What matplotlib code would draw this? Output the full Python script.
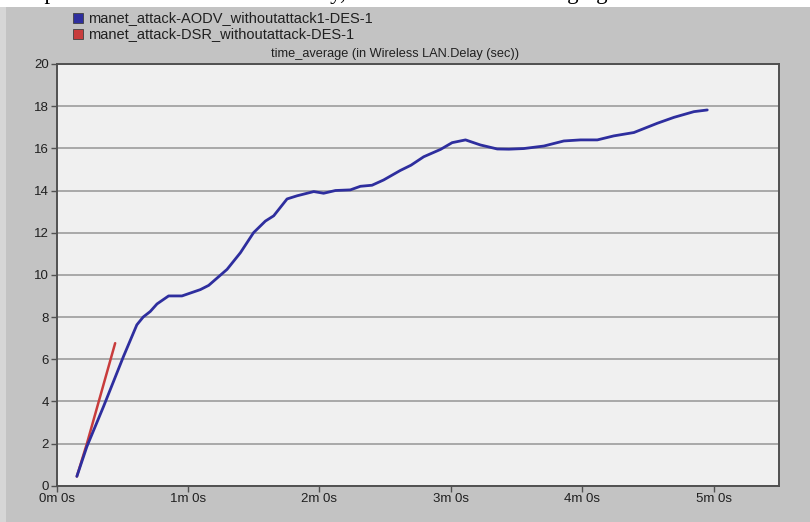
import matplotlib.pyplot as plt
from matplotlib.patches import Rectangle

# time in seconds, delay in seconds
aodv_t = [9.2, 13.8, 21.4, 30.5, 36.6, 39.5, 42.7, 45.8, 51.1, 57.2, 65.6, 69.4,
          77.8, 83.9, 89.9, 95.3, 99.1, 105.2, 109.8, 117.4, 121.9, 127.3, 134.1,
          138.7, 144.0, 149.3, 156.9, 161.8, 167.6, 175.3, 180.6, 186.7, 193.5,
          201.2, 206.5, 213.3, 222.5, 231.6, 239.2, 246.9, 254.4, 263.6, 274.3,
          281.9, 291.0, 297.1]
aodv_v = [0.44, 1.86, 3.76, 6.13, 7.63, 8.0, 8.26, 8.62, 9.0, 9.0, 9.3, 9.5,
          10.26, 11.05, 12.0, 12.55, 12.8, 13.6, 13.75, 13.95, 13.87, 14.0, 14.03,
          14.2, 14.25, 14.5, 14.95, 15.2, 15.6, 15.95, 16.27, 16.4, 16.16,
          15.97, 15.96, 15.99, 16.11, 16.35, 16.4, 16.4, 16.59, 16.75, 17.19,
          17.47, 17.74, 17.82]
dsr_t = [9.2, 13.8, 26.7]
dsr_v = [0.44, 2.0, 6.76]

series_names = ["manet_attack-AODV_withoutattack1-DES-1",
                "manet_attack-DSR_withoutattack-DES-1"]
xtick_secs = [0, 60, 120, 180, 240, 300]
xtick_labels = ["0m 0s", "1m 0s", "2m 0s", "3m 0s", "4m 0s", "5m 0s"]
title = "time_average (in Wireless LAN.Delay (sec))"

BLUE = "#2e2e9e"
RED = "#c83c3c"
PANEL = "#c3c3c3"
PLOT_BG = "#f0f0f0"
FONT = "Liberation Sans"

W, H = 810, 522
fig = plt.figure(figsize=(W / 100, H / 100), dpi=100, facecolor="white")


def px(x, y):
    """pixel (from top-left) -> figure fraction"""
    return x / W, 1 - y / H


# grey window panel (behind the axes), lighter frame strip on the left
x0, y0 = px(0, 522)
fig.patches.append(Rectangle((x0, y0), 1, (522 - 7) / H,
                             transform=fig.transFigure, facecolor="#d6d6d6",
                             edgecolor="none", zorder=-6))
x0, y0 = px(6, 522)
fig.patches.append(Rectangle((x0, y0), 1 - x0, (522 - 7) / H,
                             transform=fig.transFigure, facecolor=PANEL,
                             edgecolor="none", zorder=-5))

# cropped line of body text above the screenshot (only descenders visible)
for word, xp in [("compared", 5), ("delay,", 292), ("changing", 524)]:
    fx, fy = px(xp, -1)
    fig.text(fx, fy, word, family="Liberation Serif", fontsize=16.5,
             va="baseline", ha="left", color="black")

ax = fig.add_axes([56.7 / W, 1 - 485.7 / H, (779.3 - 56.7) / W, (485.7 - 64) / H])
ax.set_facecolor(PLOT_BG)

ax.plot(aodv_t, aodv_v, color=BLUE, lw=2.0, zorder=3, solid_capstyle="round",
        solid_joinstyle="round")
ax.plot(dsr_t, dsr_v, color=RED, lw=1.8, zorder=2, solid_capstyle="round")

ax.set_xlim(0, 330)
ax.set_ylim(0, 20)
ax.set_yticks(range(0, 21, 2))
ax.set_xticks(xtick_secs)
ax.set_xticklabels(xtick_labels)
ax.grid(axis="y", color="#a9a9a9", lw=1.4)
ax.set_axisbelow(True)

for s in ax.spines.values():
    s.set_color("#505050")
    s.set_linewidth(1.4)

ax.tick_params(axis="both", direction="out", length=4, width=1.0,
               color="#505050", labelsize=9.5, labelcolor="#202020", pad=1.5)
for lab in ax.get_xticklabels() + ax.get_yticklabels():
    lab.set_family(FONT)

# title inside grey panel
fx, fy = px(395, 54)
fig.text(fx, fy, title, ha="center", va="center", fontsize=9.2, family=FONT,
         color="#202020")

# legend squares + names
for i, (name, col) in enumerate(zip(series_names, [BLUE, RED])):
    sy = 13 + i * 16
    rx, ry = px(73, sy + 10)
    fig.patches.append(Rectangle((rx, ry), 10 / W, 10 / H,
                                 transform=fig.transFigure, facecolor=col,
                                 edgecolor="#404040", lw=0.6, zorder=2))
    tx, ty = px(88, sy + 5)
    fig.text(tx, ty, name, ha="left", va="center", fontsize=10.5,
             family=FONT, color="#202020")

fig.savefig("out.png", dpi=100, facecolor=fig.get_facecolor())
